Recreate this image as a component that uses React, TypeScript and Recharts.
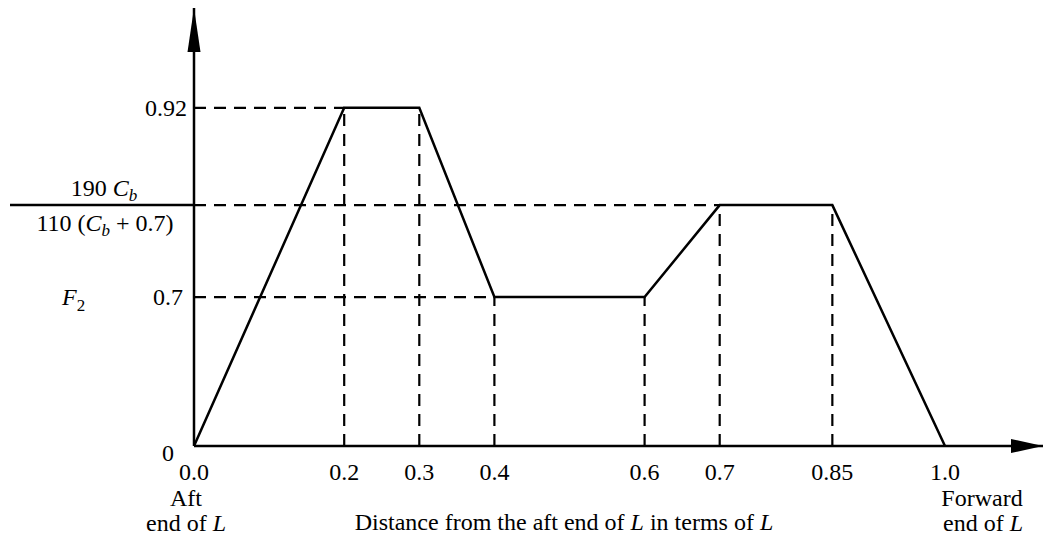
import { LineChart, Line, XAxis, YAxis, ReferenceLine, ReferenceDot } from "recharts";

// distance from aft end, in terms of L
const xPoints = [0, 0.2, 0.3, 0.4, 0.6, 0.7, 0.85, 1.0];
// F2 at each point; 0.8 stands for 190 Cb / 110 (Cb + 0.7)
const f2Values = [0, 0.92, 0.92, 0.7, 0.7, 0.8, 0.8, 0];
const xTickLabels = ["0.0", "0.2", "0.3", "0.4", "0.6", "0.7", "0.85", "1.0"];

// the vertical axis is schematic, not to scale: each level gets its own spot
const yLevels = [0, 0.7, 0.8, 0.92];
const ySpots = [0, 0.34, 0.55, 0.772];

const FONT = "'Liberation Serif', 'Times New Roman', serif";
const FS = 24;
const SUB = 17;
const X_MAX = 1.1305;

function toSpot(v: number) {
  for (let i = 1; i < yLevels.length; i++) {
    if (v <= yLevels[i]) {
      const t = (v - yLevels[i - 1]) / (yLevels[i] - yLevels[i - 1]);
      return ySpots[i - 1] + t * (ySpots[i] - ySpots[i - 1]);
    }
  }
  return ySpots[ySpots.length - 1];
}

const data = xPoints.map((x, i) => ({ x, y: toSpot(f2Values[i]) }));

function EndOfL({ x, y }: { x: number; y: number }) {
  return (
    <text x={x} y={y} textAnchor="middle" dominantBaseline="central" fontFamily={FONT} fontSize={FS}>
      end of <tspan fontStyle="italic">L</tspan>
    </text>
  );
}

function XTick(props: any) {
  const { x, y, payload, index } = props;
  const label = xTickLabels[xPoints.indexOf(payload.value)] ?? "";
  return (
    <g>
      <text x={x} y={y + 26} textAnchor="middle" dominantBaseline="central" fontFamily={FONT} fontSize={FS}>
        {label}
      </text>
      {index === 0 && (
        <>
          <text x={x - 8} y={y + 52} textAnchor="middle" dominantBaseline="central" fontFamily={FONT} fontSize={FS}>
            Aft
          </text>
          <EndOfL x={x - 8} y={y + 77} />
        </>
      )}
      {payload.value === 1 && (
        <>
          <text x={x + 37} y={y + 52} textAnchor="middle" dominantBaseline="central" fontFamily={FONT} fontSize={FS}>
            Forward
          </text>
          <EndOfL x={x + 38} y={y + 77} />
        </>
      )}
    </g>
  );
}

function YTick(props: any) {
  const { x, y, payload } = props;
  const i = ySpots.indexOf(payload.value);
  const t = { fontFamily: FONT, fontSize: FS, dominantBaseline: "central" as const };
  if (i === 0) {
    return (
      <text x={x - 26} y={y + 7} textAnchor="middle" {...t}>
        0
      </text>
    );
  }
  if (i === 1) {
    return (
      <g>
        <text x={x - 132} y={y} textAnchor="start" {...t}>
          <tspan fontStyle="italic">F</tspan>
          <tspan fontSize={SUB} dy={8}>2</tspan>
        </text>
        <text x={x - 11} y={y} textAnchor="end" {...t}>
          {yLevels[i]}
        </text>
      </g>
    );
  }
  if (i === 2) {
    return (
      <g fontFamily={FONT} fontSize={FS}>
        <line x1={x - 184} x2={x} y1={y} y2={y} stroke="#000" strokeWidth={2.5} />
        <text x={x - 90} y={y - 9} textAnchor="middle">
          190 <tspan fontStyle="italic">C</tspan>
          <tspan fontStyle="italic" fontSize={SUB} dy={5}>b</tspan>
        </text>
        <text x={x - 89} y={y + 26} textAnchor="middle">
          110 (<tspan fontStyle="italic">C</tspan>
          <tspan fontStyle="italic" fontSize={SUB} dy={5}>b</tspan>
          <tspan dy={-5}> + 0.7)</tspan>
        </text>
      </g>
    );
  }
  return (
    <text x={x - 7} y={y} textAnchor="end" {...t}>
      {yLevels[i]}
    </text>
  );
}

const dash = { stroke: "#000", strokeWidth: 2.2, strokeDasharray: "12 8" };

export default function App() {
  const verticals = data.slice(1, -1);
  const levels = Array.from(new Set(verticals.map((d) => d.y)));
  return (
    <div>
      <style>{"body{margin:0;overflow:hidden}"}</style>
      <LineChart width={1043} height={535} data={data} margin={{ top: 8, right: 0, bottom: 88, left: 193 }}>
        <XAxis
          dataKey="x"
          type="number"
          domain={[0, X_MAX]}
          ticks={xPoints}
          height={1}
          tickLine={false}
          tickSize={0}
          tickMargin={0}
          axisLine={{ stroke: "#000", strokeWidth: 2.5 }}
          tick={<XTick />}
          interval={0}
          label={{
            content: () => (
              <text x={564} y={522} textAnchor="middle" dominantBaseline="central" fontFamily={FONT} fontSize={FS}>
                Distance from the aft end of <tspan fontStyle="italic">L</tspan> in terms of{" "}
                <tspan fontStyle="italic">L</tspan>
              </text>
            ),
          }}
        />
        <YAxis
          type="number"
          domain={[0, 1]}
          ticks={ySpots}
          width={1}
          tickLine={false}
          tickSize={0}
          tickMargin={0}
          axisLine={{ stroke: "#000", strokeWidth: 2.5 }}
          tick={<YTick />}
          interval={0}
        />
        {levels.map((lv) => {
          const first = data.find((d) => d.y === lv)!;
          return <ReferenceLine key={"h" + lv} segment={[{ x: 0, y: lv }, { x: first.x, y: lv }]} {...dash} />;
        })}
        {verticals.map((d) => (
          <ReferenceLine key={"v" + d.x} segment={[{ x: d.x, y: 0 }, { x: d.x, y: d.y }]} {...dash} />
        ))}
        <Line
          type="linear"
          dataKey="y"
          stroke="#000"
          strokeWidth={2.5}
          dot={false}
          activeDot={false}
          isAnimationActive={false}
        />
        <ReferenceDot
          x={0}
          y={1}
          ifOverflow="visible"
          shape={(p: any) => (
            <polygon points={`${p.cx},${p.cy} ${p.cx - 6.5},${p.cy + 44} ${p.cx + 6.5},${p.cy + 44}`} fill="#000" />
          )}
        />
        <ReferenceDot
          x={X_MAX}
          y={0}
          ifOverflow="visible"
          shape={(p: any) => (
            <polygon points={`${p.cx},${p.cy} ${p.cx - 32},${p.cy - 7} ${p.cx - 32},${p.cy + 7}`} fill="#000" />
          )}
        />
      </LineChart>
    </div>
  );
}
